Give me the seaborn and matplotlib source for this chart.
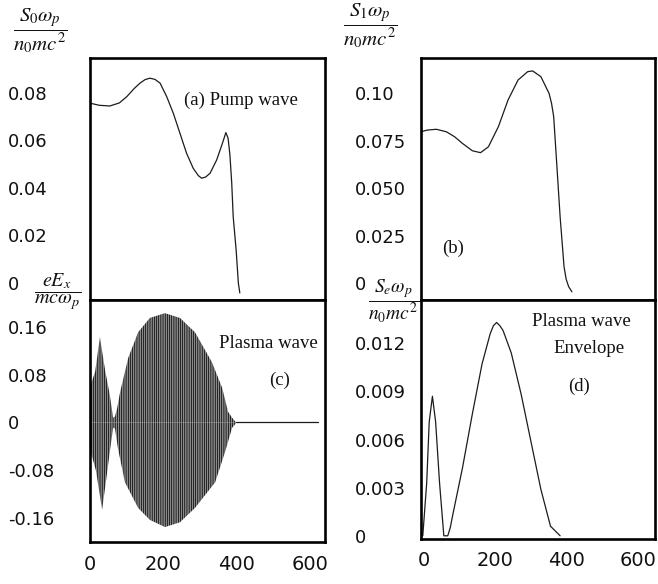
import numpy as np
import pandas as pd
import matplotlib
matplotlib.use("Agg")
import matplotlib.pyplot as plt
import seaborn as sns

# ---- (a) pump wave action density S0 vs x ----
pump_x = [0, 25, 54, 80, 100, 120, 136, 150, 163, 177, 191, 209, 227, 245, 263,
          281, 295, 304, 315, 327, 345, 360, 370, 376, 381, 386, 390, 398, 404, 408]
pump_s = [0.0757, 0.0748, 0.0745, 0.0758, 0.0784, 0.0818, 0.0841, 0.0856, 0.0862,
          0.0857, 0.0841, 0.0784, 0.0714, 0.0630, 0.0546, 0.0483, 0.0452, 0.0441,
          0.0446, 0.0462, 0.0518, 0.0585, 0.0633, 0.0610, 0.0540, 0.0420, 0.0279,
          0.0139, 0.0, -0.0042]

# ---- (b) scattered wave S1 vs x ----
stokes_x = [-8, 10, 35, 63, 86, 108, 136, 159, 181, 209, 236, 264, 291, 305, 328,
            351, 358, 364, 373, 382, 393, 399, 406, 415]
stokes_s = [0.0796, 0.0805, 0.0809, 0.0796, 0.0770, 0.0735, 0.0696, 0.0686, 0.0717,
            0.0823, 0.0963, 0.1068, 0.1112, 0.1116, 0.1086, 0.0998, 0.0945, 0.0875,
            0.0614, 0.0349, 0.0086, 0.0020, -0.0019, -0.0046]

# ---- (c) plasma wave field eEx: upper / lower envelope of the oscillation ----
field_x_top = [0, 14, 27, 41, 54, 63, 68, 74, 82, 104, 131, 163, 204, 245, 286,
               332, 360, 376, 387, 398]
field_top = [0.060, 0.085, 0.143, 0.088, 0.046, 0.008, 0.010, 0.024, 0.051, 0.108,
             0.151, 0.175, 0.183, 0.175, 0.151, 0.101, 0.058, 0.018, 0.008, 0.0]
field_x_bot = [0, 16, 33, 44, 54, 63, 68, 76, 95, 131, 163, 204, 245, 286, 341,
               368, 387, 398]
field_bot = [-0.045, -0.080, -0.146, -0.096, -0.049, -0.009, -0.010, -0.043, -0.100,
             -0.143, -0.163, -0.175, -0.167, -0.143, -0.100, -0.049, -0.009, -0.001]
tail_x = [398, 621]
tail_e = [0.0, 0.0]

# ---- (d) plasma wave envelope Se vs x ----
env_x = [-3, 8, 15, 24, 33, 44, 56, 67, 74, 81, 108, 136, 163, 186, 195, 204, 213,
         222, 245, 273, 300, 328, 355, 382]
env_s = [0.0, 0.0033, 0.0071, 0.0087, 0.0071, 0.0033, 0.0, 0.0, 0.0005, 0.0013,
         0.0042, 0.0076, 0.0107, 0.0126, 0.0131, 0.0133, 0.0131, 0.0128, 0.0114,
         0.0088, 0.0059, 0.0029, 0.0006, 0.0]

x_ticks = [0, 200, 400, 600]
ticks_a = [0, 0.02, 0.04, 0.06, 0.08]
labels_a = ["0", "0.02", "0.04", "0.06", "0.08"]
ticks_b = [0, 0.025, 0.050, 0.075, 0.10]
labels_b = ["0", "0.025", "0.050", "0.075", "0.10"]
ticks_c = [-0.16, -0.08, 0, 0.08, 0.16]
labels_c = ["-0.16", "-0.08", "0", "0.08", "0.16"]
ticks_d = [0, 0.003, 0.006, 0.009, 0.012]
labels_d = ["0", "0.003", "0.006", "0.009", "0.012"]

sns.set_theme(style="white")
plt.rcParams["font.family"] = ["DejaVu Sans"]
plt.rcParams["mathtext.fontset"] = "stix"
plt.rcParams["hatch.linewidth"] = 1.0
plt.rcParams["hatch.color"] = "#262626"

W, H = 658, 584
fig = plt.figure(figsize=(W / 100, H / 100), dpi=100)


def px_axes(x0, y0, x1, y1):
    return fig.add_axes([x0 / W, 1 - y1 / H, (x1 - x0) / W, (y1 - y0) / H])


ax_a = px_axes(90, 58, 325, 300)
ax_c = px_axes(90, 300, 325, 542)
ax_b = px_axes(421, 58, 655, 300)
ax_d = px_axes(421, 300, 655, 539)

line_kw = dict(color="#1c1c1c", linewidth=0.9, estimator=None, sort=False, legend=False)

sns.lineplot(data=pd.DataFrame({"x": pump_x, "s": pump_s}), x="x", y="s", ax=ax_a, **line_kw)
sns.lineplot(data=pd.DataFrame({"x": stokes_x, "s": stokes_s}), x="x", y="s", ax=ax_b, **line_kw)
sns.lineplot(data=pd.DataFrame({"x": env_x, "s": env_s}), x="x", y="s", ax=ax_d, **line_kw)

# densely oscillating plasma field drawn as vertical strokes inside its envelope
ax_c.fill_between(field_x_top, 0, field_top, facecolor="none", edgecolor="#262626",
                  hatch="|" * 9, linewidth=0)
ax_c.fill_between(field_x_bot, field_bot, 0, facecolor="none", edgecolor="#262626",
                  hatch="|" * 9, linewidth=0)
sns.lineplot(data=pd.DataFrame({"x": tail_x, "e": tail_e}), x="x", y="e", ax=ax_c, **line_kw)

ax_a.set_xlim(0, 640)
ax_c.set_xlim(0, 640)
ax_b.set_xlim(-8, 648)
ax_d.set_xlim(-8, 648)
ax_a.set_ylim(-0.00716, 0.0947)
ax_b.set_ylim(-0.0089, 0.1184)
ax_c.set_ylim(-0.200, 0.205)
ax_d.set_ylim(-0.0002, 0.0147)

for ax, ticks, labels, pad in [
    (ax_a, ticks_a, labels_a, 59),
    (ax_c, ticks_c, labels_c, 59),
    (ax_b, ticks_b, labels_b, 47.5),
    (ax_d, ticks_d, labels_d, 47.5),
]:
    ax.set_yticks(ticks)
    ax.set_yticklabels(labels, fontsize=13, color="#111111")
    for lab in ax.get_yticklabels():
        lab.set_horizontalalignment("left")
    ax.tick_params(axis="y", length=0, pad=pad)
    ax.set_xlabel("")
    ax.set_ylabel("")
    for sp in ax.spines.values():
        sp.set_visible(True)
        sp.set_linewidth(1.9)
        sp.set_color("black")

for ax in (ax_a, ax_b):
    ax.set_xticks(x_ticks)
    ax.set_xticklabels([])
    ax.tick_params(axis="x", length=0)

for ax in (ax_c, ax_d):
    ax.set_xticks(x_ticks)
    ax.set_xticklabels([str(t) for t in x_ticks], fontsize=14, color="#111111")
    ax.tick_params(axis="x", length=0, pad=9)

serif = ["Liberation Serif", "DejaVu Serif"]
ann = dict(family=serif, fontsize=13.5, color="#111111", ha="center", va="center")
ax_a.text(411, 0.077, "(a) Pump wave", **ann)
ax_b.text(83, 0.0184, "(b)", **ann)
ax_c.text(485, 0.133, "Plasma wave", **ann)
ax_c.text(517, 0.071, "(c)", **ann)
ax_d.text(442, 0.01333, "Plasma wave", **ann)
ax_d.text(464, 0.0117, "Envelope", **ann)
ax_d.text(434, 0.0093, "(d)", **ann)

frac = dict(color="#111111", ha="center", va="center")
fig.text(40 / W, 1 - 31 / H, r"$\dfrac{S_0\omega_p}{n_0 mc^2}$", fontsize=15, **frac)
fig.text(370 / W, 1 - 26 / H, r"$\dfrac{S_1\omega_p}{n_0 mc^2}$", fontsize=15, **frac)
fig.text(58 / W, 1 - 292 / H, r"$\dfrac{eE_x}{mc\omega_p}$", fontsize=14.5, **frac)
fig.text(394 / W, 1 - 301 / H, r"$\dfrac{S_e\omega_p}{n_0 mc^2}$", fontsize=14, **frac)

fig.savefig("out.png", dpi=100)
